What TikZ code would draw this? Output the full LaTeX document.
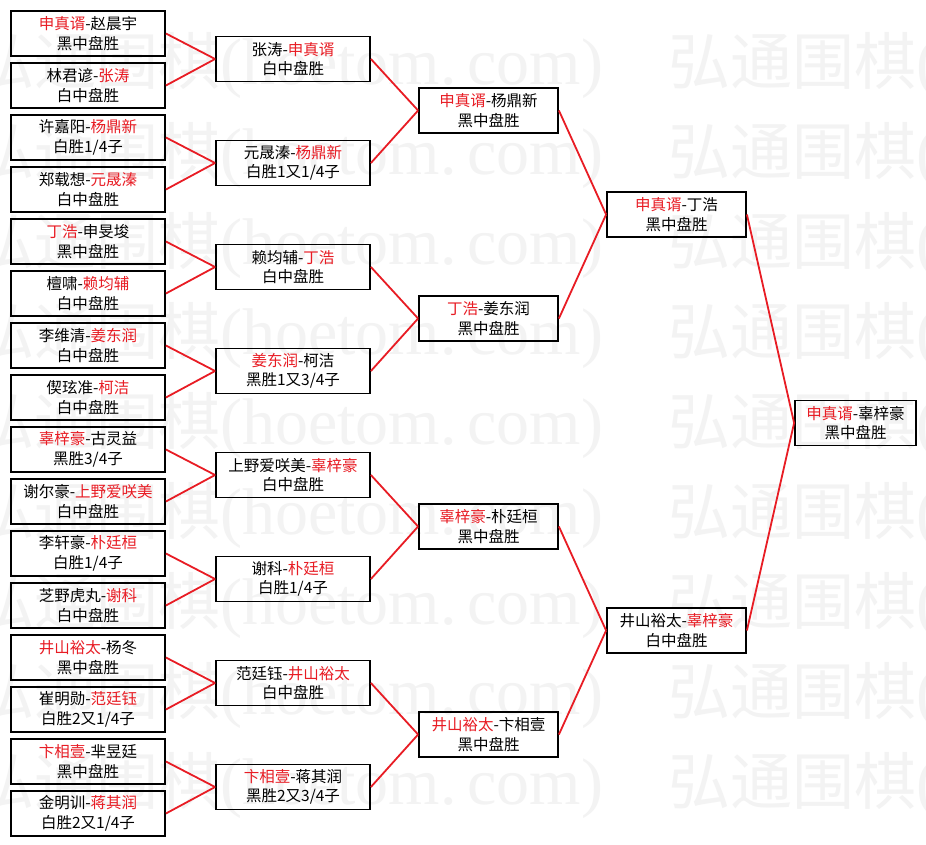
\documentclass[tikz,border=0pt]{standalone}
\usepackage{fontspec}
\newfontfamily\cjk{Noto Sans CJK SC}
\newfontfamily\wmserif{Liberation Serif}
\definecolor{wred}{RGB}{232,28,36}
\definecolor{wmark}{RGB}{243,243,243}
\newcommand\rn[1]{\textcolor{wred}{#1}}
\tikzset{
  pbox/.style={draw=black, line width=1.8pt, fill=none, inner sep=0pt, align=center,
    minimum height=45pt, font=\cjk\fontsize{15.5}{19.5}\selectfont, text=black},
  wa/.style={pbox, minimum width=154pt},
  wb/.style={pbox, minimum width=154pt},
  wc/.style={pbox, minimum width=139pt},
  wd/.style={pbox, minimum width=139pt},
  we/.style={pbox, minimum width=121pt},
  link/.style={draw=wred, line width=1.8pt},
  wmtext/.style={anchor=west, inner sep=0pt, text=wmark}
}
\begin{document}
\begin{tikzpicture}[x=1pt,y=-1pt]
\useasboundingbox (0,0) rectangle (926,845);
\fill[white] (0,0) rectangle (926,845);
% watermark
\foreach \yy [count=\k] in {65,155,245,335,425,515,605,695,785}{
  \foreach \sx [count=\j] in {-28,668}{
    \node[wmtext] (wm\k x\j) at (\sx,\yy) {{\cjk\fontsize{62}{62}\selectfont 弘通围棋}{\wmserif\fontsize{66}{66}\selectfont (hoetom.\,com)}};
  }
}
% column 1
\node[wa] (a1)  at (88,33.5)  {\rn{申真谞}-赵晨宇\\黑中盘胜};
\node[wa] (a2)  at (88,85.5)  {林君谚-\rn{张涛}\\白中盘胜};
\node[wa] (a3)  at (88,137.5) {许嘉阳-\rn{杨鼎新}\\白胜1/4子};
\node[wa] (a4)  at (88,189.5) {郑载想-\rn{元晟溱}\\白中盘胜};
\node[wa] (a5)  at (88,241.5) {\rn{丁浩}-申旻埈\\黑中盘胜};
\node[wa] (a6)  at (88,293.5) {檀啸-\rn{赖均辅}\\白中盘胜};
\node[wa] (a7)  at (88,345.5) {李维清-\rn{姜东润}\\白中盘胜};
\node[wa] (a8)  at (88,397.5) {偰玹准-\rn{柯洁}\\白中盘胜};
\node[wa] (a9)  at (88,449.5) {\rn{辜梓豪}-古灵益\\黑胜3/4子};
\node[wa] (a10) at (88,501.5) {谢尔豪-\rn{上野爱咲美}\\白中盘胜};
\node[wa] (a11) at (88,553.5) {李轩豪-\rn{朴廷桓}\\白胜1/4子};
\node[wa] (a12) at (88,605.5) {芝野虎丸-\rn{谢科}\\白中盘胜};
\node[wa] (a13) at (88,657.5) {\rn{井山裕太}-杨冬\\黑中盘胜};
\node[wa] (a14) at (88,709.5) {崔明勋-\rn{范廷钰}\\白胜2又1/4子};
\node[wa] (a15) at (88,761.5) {\rn{卞相壹}-芈昱廷\\黑中盘胜};
\node[wa] (a16) at (88,813.5) {金明训-\rn{蒋其润}\\白胜2又1/4子};
% column 2
\node[wb] (b1) at (293,59)  {张涛-\rn{申真谞}\\白中盘胜};
\node[wb] (b2) at (293,163) {元晟溱-\rn{杨鼎新}\\白胜1又1/4子};
\node[wb] (b3) at (293,267) {赖均辅-\rn{丁浩}\\白中盘胜};
\node[wb] (b4) at (293,371) {\rn{姜东润}-柯洁\\黑胜1又3/4子};
\node[wb] (b5) at (293,475) {上野爱咲美-\rn{辜梓豪}\\白中盘胜};
\node[wb] (b6) at (293,579) {谢科-\rn{朴廷桓}\\白胜1/4子};
\node[wb] (b7) at (293,683) {范廷钰-\rn{井山裕太}\\白中盘胜};
\node[wb] (b8) at (293,787) {\rn{卞相壹}-蒋其润\\黑胜2又3/4子};
% column 3
\node[wc] (c1) at (488.5,110.5) {\rn{申真谞}-杨鼎新\\黑中盘胜};
\node[wc] (c2) at (488.5,318.5) {\rn{丁浩}-姜东润\\黑中盘胜};
\node[wc] (c3) at (488.5,526.5) {\rn{辜梓豪}-朴廷桓\\黑中盘胜};
\node[wc] (c4) at (488.5,734.5) {\rn{井山裕太}-卞相壹\\黑中盘胜};
% column 4
\node[wd] (d1) at (676.5,214.5) {\rn{申真谞}-丁浩\\黑中盘胜};
\node[wd] (d2) at (676.5,630.5) {井山裕太-\rn{辜梓豪}\\白中盘胜};
% final
\node[we] (e) at (855.5,423) {\rn{申真谞}-辜梓豪\\黑中盘胜};
% connectors
\foreach \i/\p in {1/1,2/1,3/2,4/2,5/3,6/3,7/4,8/4,9/5,10/5,11/6,12/6,13/7,14/7,15/8,16/8}{
  \draw[link] (a\i.east) -- (b\p.west);
}
\foreach \i/\p in {1/1,2/1,3/2,4/2,5/3,6/3,7/4,8/4}{
  \draw[link] (b\i.east) -- (c\p.west);
}
\foreach \i/\p in {1/1,2/1,3/2,4/2}{
  \draw[link] (c\i.east) -- (d\p.west);
}
\draw[link] (d1.east) -- (e.west);
\draw[link] (d2.east) -- (e.west);
\end{tikzpicture}
\end{document}
